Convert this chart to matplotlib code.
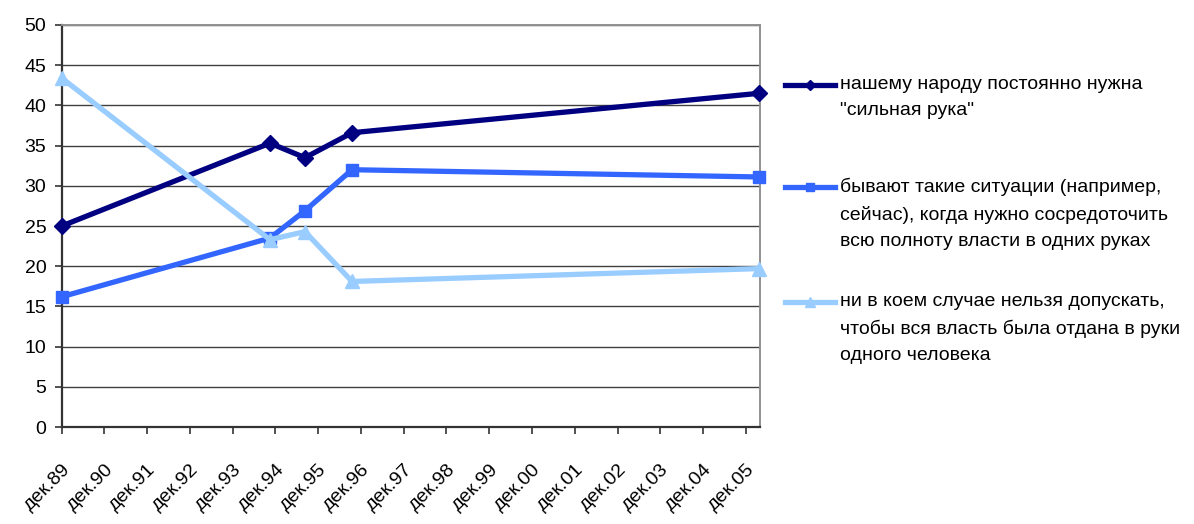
import datetime as dt
import matplotlib
matplotlib.use("Agg")
import matplotlib.pyplot as plt
import matplotlib.transforms as mtransforms
from matplotlib.lines import Line2D

# survey dates and shares (%)
dates = ["1989-12-01", "1994-10-15", "1995-08-10", "1996-09-15", "2006-03-20"]
strong_hand = [25.0, 35.3, 33.5, 36.6, 41.5]
sometimes = [16.2, 23.5, 26.9, 32.0, 31.1]
never = [43.4, 23.3, 24.3, 18.1, 19.7]

labels = [
    "нашему народу постоянно нужна\n\"сильная рука\"",
    "бывают такие ситуации (например,\nсейчас), когда нужно сосредоточить\nвсю полноту власти в одних руках",
    "ни в коем случае нельзя допускать,\nчтобы вся власть была отдана в руки\nодного человека",
]
tick_years = list(range(1989, 2006))
tick_labels = ["дек.%02d" % (y % 100) for y in tick_years]

colors = ["#000080", "#3366FF", "#99CCFF"]
markers = ["D", "s", "^"]
msizes = [8, 8, 10]

x = [dt.datetime.strptime(d, "%Y-%m-%d") for d in dates]

plt.rcParams["font.family"] = ["Liberation Sans", "DejaVu Sans"]

fig = plt.figure(figsize=(11.94, 5.24), dpi=100)
ax = fig.add_axes([0.0517, 0.1851, 0.5848, 0.7672])

for vals, c, m, ms in zip([strong_hand, sometimes, never], colors, markers, msizes):
    ax.plot(x, vals, color=c, lw=3.8, marker=m, ms=ms, mec=c, mfc=c,
            solid_joinstyle="miter", clip_on=False, zorder=3)

ax.set_ylim(0, 50)
ax.set_yticks(range(0, 51, 5))
ax.set_xlim(dt.datetime(1989, 12, 1), dt.datetime(2006, 4, 1))
ax.set_xticks([dt.datetime(y, 12, 1) for y in tick_years])
ax.set_xticklabels(tick_labels, rotation=45, ha="right", va="center",
                   rotation_mode="anchor", fontsize=14)
ax.tick_params(axis="y", labelsize=14, length=5, width=1.2, color="#333333", pad=6)
ax.tick_params(axis="x", length=5, width=1.2, color="#333333", pad=24)

# nudge the slanted labels so their upper end sits at the tick
shift = mtransforms.ScaledTranslation(6 / 100, 0, fig.dpi_scale_trans)
for lbl in ax.get_xticklabels():
    lbl.set_transform(lbl.get_transform() + shift)

ax.grid(axis="y", color="#404040", lw=1)
ax.set_axisbelow(True)
for s in ["left", "bottom"]:
    ax.spines[s].set_color("#333333")
    ax.spines[s].set_linewidth(1.6)
for s in ["top", "right"]:
    ax.spines[s].set_color("#909090")
    ax.spines[s].set_linewidth(1.4)

# legend drawn by hand, handle beside the first line of each entry
legend_rows = [85, 187, 302]
for lab, c, m, ms, yrow in zip(labels, colors, markers, msizes, legend_rows):
    yf = 1 - yrow / 524
    fig.add_artist(Line2D([785 / 1194, 835 / 1194], [yf, yf], transform=fig.transFigure,
                          color=c, lw=3.8))
    fig.add_artist(Line2D([810 / 1194], [yf], transform=fig.transFigure,
                          color=c, marker=m, ms=ms * 0.7, mec=c, mfc=c))
    fig.text(840 / 1194, 1 - (yrow - 9) / 524, lab, fontsize=14, ha="left", va="top",
             linespacing=1.7, transform=fig.transFigure)

fig.savefig("out.png", dpi=100)
